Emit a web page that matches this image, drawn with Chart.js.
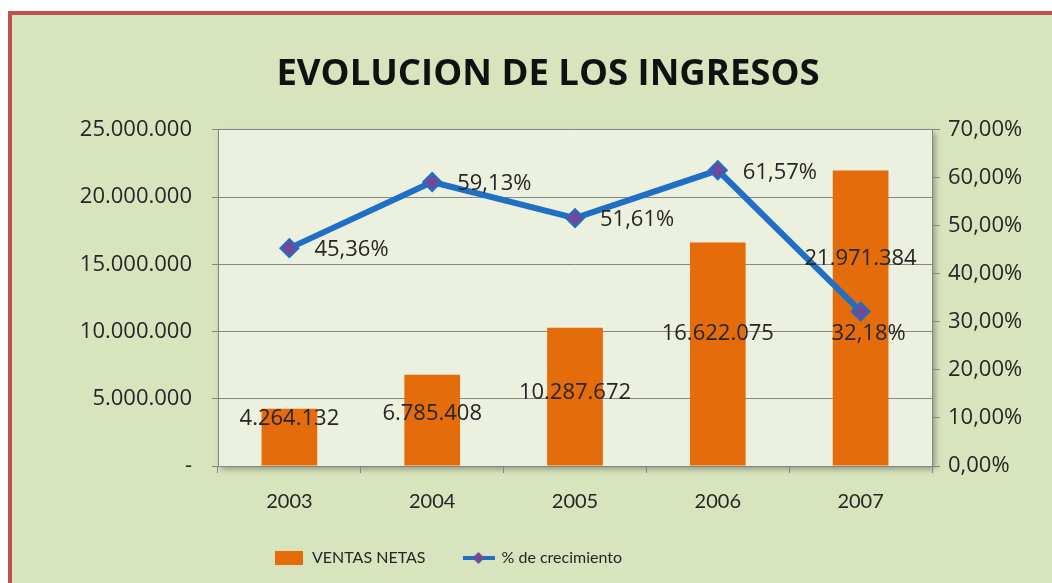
<!DOCTYPE html>
<html lang="es">
<head>
  <meta charset="UTF-8" />
  <title>Evolucion de los ingresos</title>
  <script src="https://cdn.jsdelivr.net/npm/chart.js"></script>
  <style>
    body { margin: 0; background: #fff; width: 1052px; height: 583px; overflow: hidden; position: relative; }
    .frame { position: absolute; left: 8px; top: 11px; width: 1100px; height: 700px;
             border: 4px solid #c0504d; background: #d7e4bd; }
    #chart { position: absolute; left: 0; top: 0; }
  </style>
</head>
<body>
  <div class="frame"></div>
  <canvas id="chart" width="1052" height="583"></canvas>

  <script>
    // data
    const years = ['2003', '2004', '2005', '2006', '2007'];
    const ventasNetas = [4264132, 6785408, 10287672, 16622075, 21971384];
    const crecimiento = [45.36, 59.13, 51.61, 61.57, 32.18];

    const textColor = '#262626';
    const orange = '#e46c0a';
    const blue = '#1f6fc4';

    function fmtMiles(v) {
      return String(Math.round(v)).replace(/\B(?=(\d{3})+(?!\d))/g, '.');
    }
    function fmtPct(v) {
      return v.toFixed(2).replace('.', ',') + '%';
    }

    // legend swatches, excel style
    function swatchBar() {
      const c = document.createElement('canvas');
      c.width = 28; c.height = 14;
      const x = c.getContext('2d');
      x.fillStyle = orange;
      x.fillRect(0, 0, 28, 14);
      return c;
    }
    function swatchLine() {
      const c = document.createElement('canvas');
      c.width = 32; c.height = 16;
      const x = c.getContext('2d');
      x.strokeStyle = blue; x.lineWidth = 4;
      x.beginPath(); x.moveTo(0, 8); x.lineTo(32, 8); x.stroke();
      x.fillStyle = '#6f4a9a';
      x.beginPath(); x.moveTo(16, 2); x.lineTo(22, 8); x.lineTo(16, 14); x.lineTo(10, 8); x.closePath(); x.fill();
      return c;
    }

    // plot area background with soft shadow
    const plotBg = {
      id: 'plotBg',
      beforeDraw(chart) {
        const a = chart.chartArea, ctx = chart.ctx;
        ctx.save();
        ctx.shadowColor = 'rgba(0,0,0,0.35)';
        ctx.shadowBlur = 6;
        ctx.shadowOffsetX = 3;
        ctx.shadowOffsetY = 3;
        ctx.fillStyle = '#ebf1de';
        ctx.fillRect(a.left, a.top, a.right - a.left, a.bottom - a.top);
        ctx.restore();
      }
    };

    // nudge legend and title sideways like the excel one
    const boxShift = {
      id: 'boxShift',
      afterLayout(chart) {
        const l = chart.legend;
        if (l) { l.left -= 88; l.right -= 88; }
        const t = chart.titleBlock;
        if (t) { t.left += 12; t.right += 12; }
      }
    };

    // data labels
    const barLabelDepth = [0.18, 0.43, 0.47, 0.41, 0.30];
    const lineLabelPos = [[25, 2, 'left'], [25, 2, 'left'], [25, 2, 'left'], [25, 2, 'left'], [8, 22, 'center']];
    const valueLabels = {
      id: 'valueLabels',
      afterDatasetsDraw(chart) {
        const ctx = chart.ctx;
        ctx.save();
        ctx.font = '22px "Open Sans"';
        ctx.fillStyle = textColor;
        ctx.textBaseline = 'middle';
        chart.getDatasetMeta(1).data.forEach((bar, i) => {
          ctx.textAlign = 'center';
          const y = bar.y + (bar.base - bar.y) * barLabelDepth[i];
          ctx.fillText(fmtMiles(ventasNetas[i]), bar.x, y);
        });
        chart.getDatasetMeta(0).data.forEach((pt, i) => {
          const p = lineLabelPos[i];
          ctx.textAlign = p[2];
          ctx.fillText(fmtPct(crecimiento[i]), pt.x + p[0], pt.y + p[1]);
        });
        ctx.restore();
      }
    };

    new Chart(document.getElementById('chart'), {
      data: {
        labels: years,
        datasets: [
          {
            type: 'line',
            label: '% de crecimiento',
            data: crecimiento,
            yAxisID: 'y1',
            borderColor: blue,
            borderWidth: 6,
            tension: 0,
            pointStyle: 'rectRot',
            pointRadius: 9,
            pointBackgroundColor: '#6f4a9a',
            pointBorderColor: blue,
            pointBorderWidth: 2,
            order: 0
          },
          {
            type: 'bar',
            label: 'VENTAS NETAS',
            data: ventasNetas,
            yAxisID: 'y',
            backgroundColor: orange,
            barPercentage: 0.39,
            categoryPercentage: 1,
            order: 1
          }
        ]
      },
      options: {
        responsive: false,
        animation: false,
        layout: { padding: { left: 40, right: 20, top: 0, bottom: 7 } },
        plugins: {
          title: {
            display: true,
            text: 'EVOLUCION DE LOS INGRESOS',
            color: '#111',
            font: { family: '"Open Sans"', size: 36.5, weight: 'bold' },
            padding: { top: 53, bottom: 33 }
          },
          legend: {
            position: 'bottom',
            reverse: true,
            labels: {
              color: textColor,
              font: { family: 'Lato', size: 16 },
              usePointStyle: true,
              pointStyleWidth: 30,
              padding: 38,
              generateLabels(chart) {
                return [
                  { text: '% de crecimiento', pointStyle: swatchLine(), fontColor: textColor, datasetIndex: 0, lineWidth: 0 },
                  { text: 'VENTAS NETAS', pointStyle: swatchBar(), fontColor: textColor, datasetIndex: 1, lineWidth: 0 }
                ];
              }
            }
          },
          tooltip: { enabled: false }
        },
        scales: {
          x: {
            offset: true,
            grid: { display: true, drawOnChartArea: false, offset: true, color: '#868686', tickLength: 7 },
            border: { color: '#868686' },
            ticks: { color: textColor, font: { family: 'Lato', size: 20 }, padding: 17 },
            afterFit(s) { s.height = 46; }
          },
          y: {
            position: 'left',
            min: 0,
            max: 25000000,
            ticks: {
              stepSize: 5000000,
              color: textColor,
              font: { family: '"Open Sans"', size: 22 },
              padding: 20,
              callback: v => v === 0 ? '-' : fmtMiles(v)
            },
            grid: { color: '#868686', tickLength: 6 },
            border: { color: '#868686' },
            afterFit(s) { s.width = 178; }
          },
          y1: {
            position: 'right',
            min: 0,
            max: 70,
            ticks: {
              stepSize: 10,
              color: textColor,
              font: { family: '"Open Sans"', size: 22 },
              padding: 8,
              callback: v => fmtPct(v)
            },
            grid: { drawOnChartArea: false, color: '#868686', tickLength: 8 },
            border: { color: '#868686' },
            afterFit(s) { s.width = 100; }
          }
        }
      },
      plugins: [plotBg, boxShift, valueLabels]
    });
  </script>
</body>
</html>
